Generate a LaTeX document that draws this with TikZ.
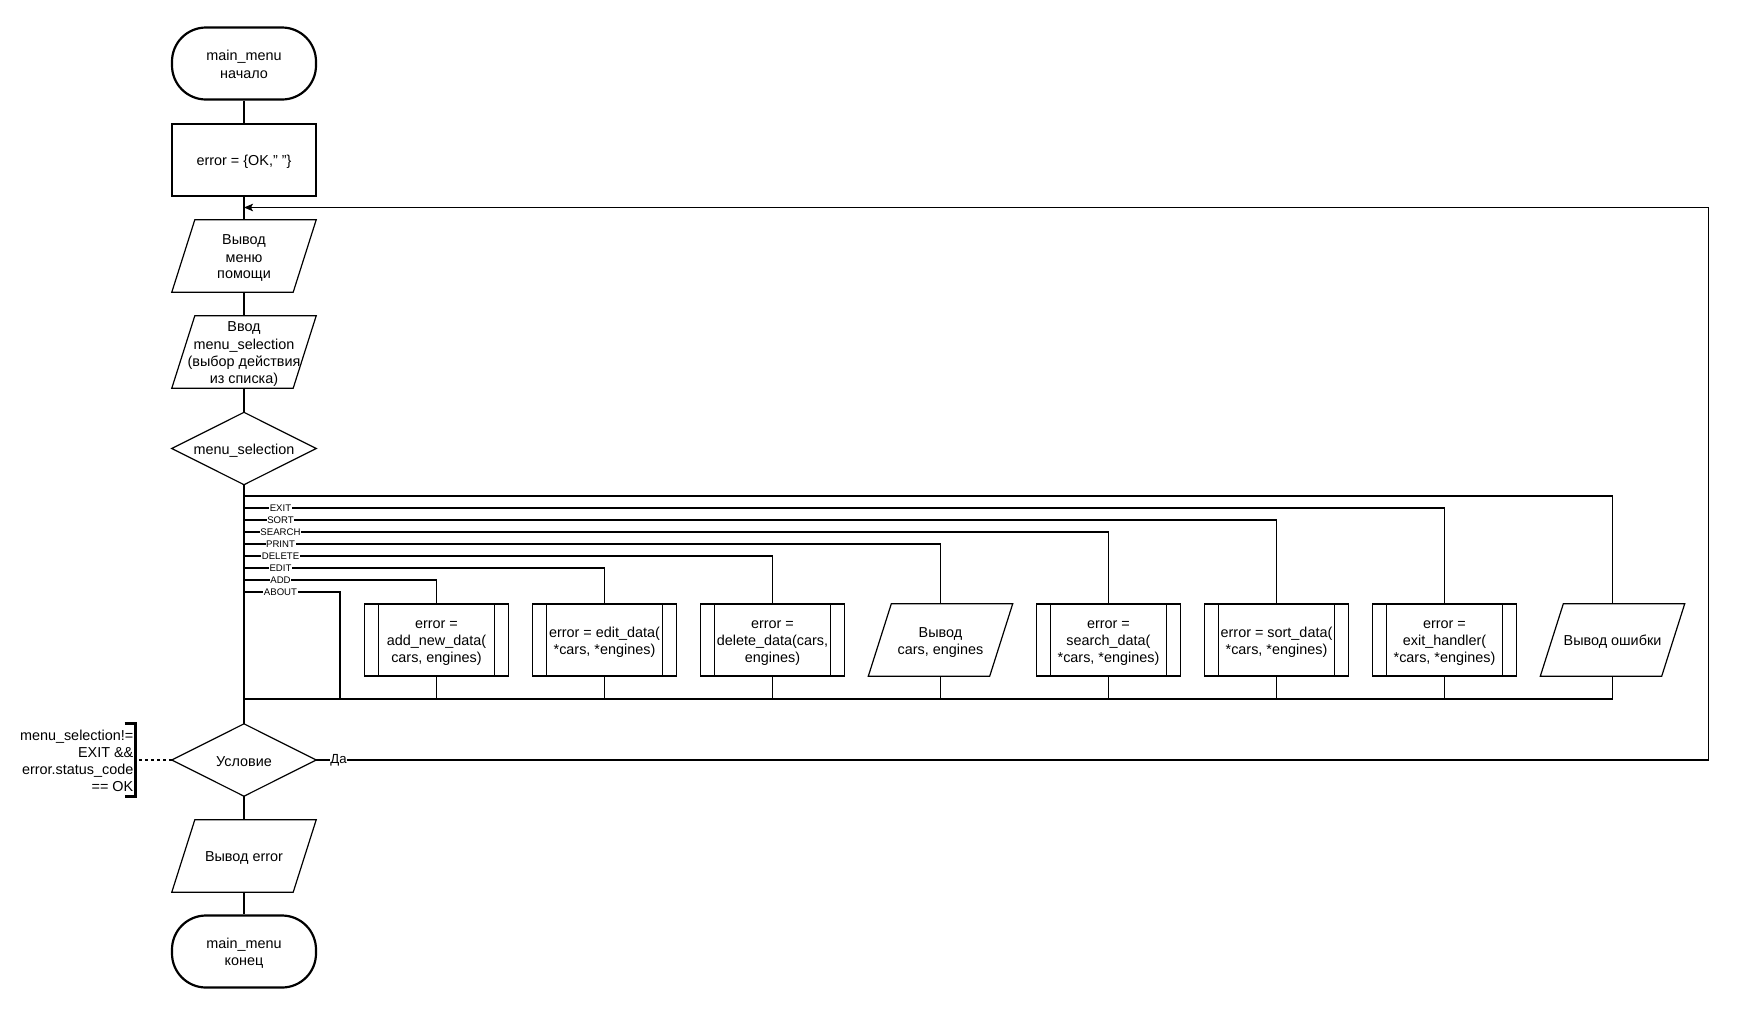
\documentclass[tikz,border=0pt]{standalone}
\usepackage{fontspec}
\usepackage{array}
\setmainfont{Liberation Sans}
\usetikzlibrary{arrows.meta}
% centred lines with a fixed pitch of 16.8pt
\newcolumntype{C}{>{\rule[-2.4pt]{0pt}{16.8pt}}c}
\newcommand\mlines[1]{{\renewcommand\arraystretch{0}\begin{tabular}{@{}C@{}}#1\end{tabular}}}
\begin{document}
\begin{tikzpicture}[x=1pt,y=-1pt,
  txt/.style={font=\fontsize{14.4}{16.8}\selectfont},
  base/.style={txt, inner sep=0pt, minimum width=144pt, minimum height=72pt},
  term/.style={base, draw, line width=2.2pt, rounded corners=34pt},
  proc/.style={base, draw, line width=1.2pt},
  blank/.style={base},
  conn/.style={line width=1.2pt},
  bus/.style={line width=2pt},
  lbl/.style={fill=white, inner sep=0.6pt, font=\fontsize{9.6}{10}\selectfont},
  yeslbl/.style={fill=white, inner sep=0.8pt, font=\fontsize{13.2}{15}\selectfont},
  tip/.style={-{Stealth[length=9pt,width=7.5pt,inset=2pt]}}
]
\useasboundingbox (0,0) rectangle (1749,1034);

% main column
\node[term]  (start)  at (244,63.5)  {\mlines{main\_menu\\начало}};
\node[proc]  (init)   at (244,160)   {\mlines{error = \{OK," "\}}};
\node[blank] (help)   at (244,256)   {\mlines{Вывод\\меню\\помощи}};
\node[blank] (input)  at (244,352)   {\mlines{Ввод\\menu\_selection\\(выбор действия\\из списка)}};
\node[blank] (sel)    at (244,448.5) {\mlines{menu\_selection}};
\node[blank] (cond)   at (244,760)   {\mlines{Условие}};
\node[blank] (outerr) at (244,856)   {\mlines{Вывод error}};
\node[term]  (end)    at (244,951.5) {\mlines{main\_menu\\конец}};

% branch actions
\node[proc]  (add)    at (436.5,640)  {\mlines{error =\\add\_new\_data(\\cars, engines)}};
\node[proc]  (edit)   at (604.5,640)  {\mlines{error = edit\_data(\\{}*cars, *engines)}};
\node[proc]  (del)    at (772.5,640)  {\mlines{error =\\delete\_data(cars,\\engines)}};
\node[blank] (print)  at (940.5,640)  {\mlines{Вывод\\cars, engines}};
\node[proc]  (search) at (1108.5,640) {\mlines{error =\\search\_data(\\{}*cars, *engines)}};
\node[proc]  (sort)   at (1276.5,640) {\mlines{error = sort\_data(\\{}*cars, *engines)}};
\node[proc]  (exit)   at (1444.5,640) {\mlines{error =\\exit\_handler(\\{}*cars, *engines)}};
\node[blank] (errmsg) at (1612.5,640) {\mlines{Вывод ошибки}};

% predefined-process side bars
\foreach \n in {add,edit,del,search,sort,exit} {
  \draw[conn] ([xshift=14.5pt]\n.north west) -- ([xshift=14.5pt]\n.south west);
  \draw[conn] ([xshift=-14.5pt]\n.north east) -- ([xshift=-14.5pt]\n.south east);
}
% input/output parallelograms
\foreach \n in {help,input,print,errmsg,outerr} {
  \draw[conn] ([xshift=23pt]\n.north west) -- (\n.north east)
    -- ([xshift=-23pt]\n.south east) -- (\n.south west) -- cycle;
}
% decisions
\foreach \n in {sel,cond} {
  \draw[conn] (\n.north) -- (\n.east) -- (\n.south) -- (\n.west) -- cycle;
}

% main flow
\draw[conn] (start.south) -- (init.north);
\draw[conn] (init.south) -- (help.north);
\draw[conn] (help.south) -- (input.north);
\draw[conn] (input.south) -- (sel.north);
\draw[bus] (sel.south) -- (cond.north);
\draw[conn] (cond.south) -- (outerr.north);
\draw[conn] (outerr.south) -- (end.north);

% switch branches
\coordinate (b0) at (244,496);
\coordinate (b1) at (244,508);
\coordinate (b2) at (244,520);
\coordinate (b3) at (244,532);
\coordinate (b4) at (244,544);
\coordinate (b5) at (244,556);
\coordinate (b6) at (244,568);
\coordinate (b7) at (244,580);
\coordinate (b8) at (244,592);
\coordinate (merge) at (244,699);
\coordinate (aboutend) at (340,699);

\draw[conn] (b0) -| (errmsg.north);
\draw[conn] (b1) -- ++(73,0) node[midway,lbl]{EXIT} -| (exit.north);
\draw[conn] (b2) -- ++(73,0) node[midway,lbl]{SORT} -| (sort.north);
\draw[conn] (b3) -- ++(73,0) node[midway,lbl]{SEARCH} -| (search.north);
\draw[conn] (b4) -- ++(73,0) node[midway,lbl]{PRINT} -| (print.north);
\draw[conn] (b5) -- ++(73,0) node[midway,lbl]{DELETE} -| (del.north);
\draw[conn] (b6) -- ++(73,0) node[midway,lbl]{EDIT} -| (edit.north);
\draw[conn] (b7) -- ++(73,0) node[midway,lbl]{ADD} -| (add.north);
\draw[conn] (b8) -- ++(73,0) node[midway,lbl]{ABOUT} -| (aboutend);

% merge of all branches
\foreach \n in {add,edit,del,print,search,sort,exit,errmsg} {
  \draw[conn] (\n.south) -- (\n.south |- merge);
}
\draw[bus] (merge) -- (merge -| errmsg.south);

% loop back
\coordinate (loopin) at (244,207.5);
\draw[conn,tip] (cond.east) -- ++(1392,0) |- (loopin);
\node[yeslbl] (yes) at (338.5,760) {Да};

% annotation of the loop condition
\coordinate (brk) at (135.5,760);
\draw[conn, dash pattern=on 3pt off 3pt] (cond.west) -- (brk);
\draw[line width=2.2pt] ([xshift=-11pt]brk |- 0,723.5) -- (brk |- 0,723.5) -- (brk |- 0,796.5) -- ([xshift=-11pt]brk |- 0,796.5);
\node[txt, anchor=east, align=right, inner sep=0pt] (note) at (133.5,761)
  {menu\_selection!=\\EXIT \&\&\hspace{3.5pt}\\error.status\_code\\== OK};
\end{tikzpicture}
\end{document}
